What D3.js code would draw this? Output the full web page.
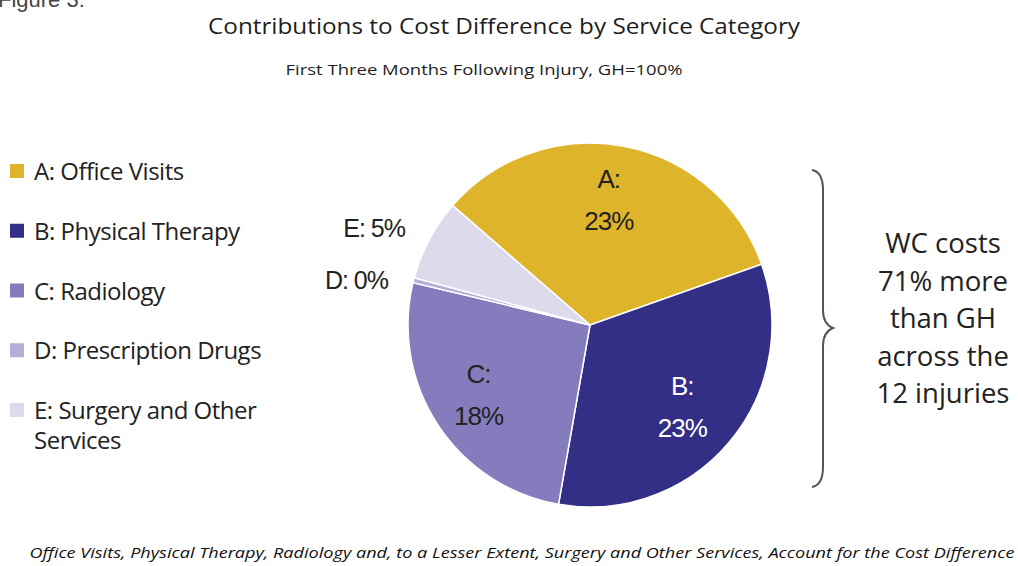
<!DOCTYPE html>
<html>
<head>
<meta charset="utf-8">
<script src="https://cdn.jsdelivr.net/npm/d3@7"></script>
<style>
  body { margin: 0; background: #fff; }
  svg { display: block; }
  text { font-family: "Open Sans", "DejaVu Sans", sans-serif; fill: #222; }
</style>
</head>
<body>
<svg width="1018" height="566"></svg>
<script>
// data
const codes = ["A", "B", "C", "D", "E"];
const categories = ["Office Visits", "Physical Therapy", "Radiology", "Prescription Drugs", "Surgery and Other Services"];
const shares = [23, 23, 18, 0.3, 5];
const colors = ["#DEB42A", "#332E86", "#847CBC", "#B4AFD7", "#DDDAEC"];
const noteLines = ["WC costs", "71% more", "than GH", "across the", "12 injuries"];

var svg = d3.select("svg");

// header
svg.append("text")
    .attr("x", -2).attr("y", 7)
    .style("font-family", "Arial, 'Liberation Sans', sans-serif")
    .style("font-size", "22px").style("fill", "#444")
    .text("Figure 3:");

svg.append("text")
    .attr("x", 504).attr("y", 34)
    .attr("text-anchor", "middle")
    .attr("textLength", 592).attr("lengthAdjust", "spacingAndGlyphs")
    .style("font-size", "22px").style("fill", "#1e1e1e")
    .style("font-weight", 500)
    .text("Contributions to Cost Difference by Service Category");

svg.append("text")
    .attr("x", 484).attr("y", 75)
    .attr("text-anchor", "middle")
    .attr("textLength", 397).attr("lengthAdjust", "spacingAndGlyphs")
    .style("font-size", "14px").style("fill", "#1e1e1e")
    .style("font-weight", 500)
    .text("First Three Months Following Injury, GH=100%");

// legend
var legend = svg.append("g").attr("transform", "translate(10,0)");
var legY = d3.scalePoint().domain(codes).range([171, 410]);

codes.forEach((c, i) => {
    var g = legend.append("g").attr("transform", `translate(0,${legY(c)})`);
    g.append("rect")
        .attr("x", 0).attr("y", -7)
        .attr("width", 14).attr("height", 14)
        .attr("fill", colors[i]);
    var t = g.append("text")
        .attr("x", 24).attr("y", 9)
        .style("font-size", "24px")
        .style("letter-spacing", "-0.5px");
    if (c == "E") {
        t.append("tspan").text(c + ": Surgery and Other");
        t.append("tspan").attr("x", 24).attr("dy", 30).text("Services");
    } else {
        t.text(c + ": " + categories[i]);
    }
});

// pie
var cx = 590, cy = 325, r = 182;
var start = -49 * Math.PI / 180;
var pie = d3.pie().sort(null).value(d => d)
    .startAngle(start).endAngle(start + 2 * Math.PI);
var arc = d3.arc().innerRadius(0).outerRadius(r);
var arcs = pie(shares);

var pieG = svg.append("g").attr("transform", `translate(${cx},${cy})`);
pieG.selectAll("path.slice")
    .data(arcs)
    .enter()
    .append("path")
    .attr("class", "slice")
    .attr("d", arc)
    .attr("fill", (d, i) => colors[i])
    .attr("stroke", "#fff")
    .attr("stroke-width", 1.5);

// labels inside the big slices
var labelArc = d3.arc().innerRadius(r * 0.7).outerRadius(r * 0.7);
[0, 1, 2].forEach(i => {
    var p = labelArc.centroid(arcs[i]);
    var t = pieG.append("text")
        .attr("text-anchor", "middle")
        .style("font-family", "Arial, 'Liberation Sans', sans-serif")
        .style("font-size", "26px")
        .style("letter-spacing", "-1px")
        .style("fill", i == 1 ? "#fff" : "#222");
    t.append("tspan").attr("x", p[0] - 5).attr("y", p[1] - 12).text(codes[i] + ":");
    t.append("tspan").attr("x", p[0] - 5).attr("y", p[1] + 30).text(Math.round(shares[i]) + "%");
});

// small slices labelled outside, to the left
[3, 4].forEach(i => {
    pieG.append("text")
        .attr("x", i == 3 ? -202 : -185)
        .attr("y", i == 3 ? -36 : -88)
        .attr("text-anchor", "end")
        .style("font-family", "Arial, 'Liberation Sans', sans-serif")
        .style("font-size", "25px")
        .style("letter-spacing", "-1px")
        .text(codes[i] + (i == 3 ? ": " : ":  ") + Math.round(shares[i]) + "%");
});

// brace
var bx = 812, bTop = 170, bBot = 487, bMid = 328;
var brace = d3.path();
brace.moveTo(bx, bTop);
brace.quadraticCurveTo(bx + 11, bTop + 2, bx + 11, bTop + 20);
brace.lineTo(bx + 11, bMid - 18);
brace.quadraticCurveTo(bx + 11, bMid - 4, bx + 21, bMid);
brace.quadraticCurveTo(bx + 11, bMid + 4, bx + 11, bMid + 18);
brace.lineTo(bx + 11, bBot - 20);
brace.quadraticCurveTo(bx + 11, bBot - 2, bx, bBot);
svg.append("path")
    .attr("d", brace.toString())
    .attr("fill", "none")
    .attr("stroke", "#555")
    .attr("stroke-width", 2);

// note
var note = svg.append("text")
    .attr("text-anchor", "middle")
    .style("font-size", "27.5px")
    .style("fill", "#222");
noteLines.forEach((s, i) => {
    note.append("tspan").attr("x", 943).attr("y", 253 + i * 37.5).text(s);
});

// caption
svg.append("text")
    .attr("x", 522).attr("y", 558)
    .attr("text-anchor", "middle")
    .attr("textLength", 985).attr("lengthAdjust", "spacingAndGlyphs")
    .style("font-size", "15px")
    .style("font-style", "italic")
    .style("fill", "#111")
    .text("Office Visits, Physical Therapy, Radiology and, to a Lesser Extent, Surgery and Other Services, Account for the Cost Difference");
</script>
</body>
</html>
